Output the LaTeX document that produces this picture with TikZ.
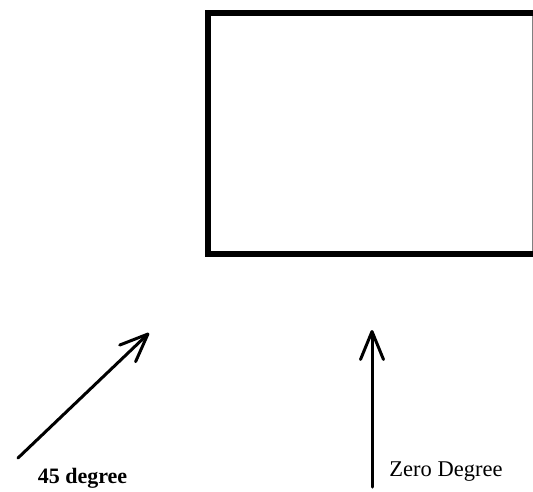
\documentclass[tikz,border=0pt]{standalone}
\usepackage{fontspec}
\setmainfont{Liberation Serif}
\usetikzlibrary{arrows.meta}
\begin{document}
\begin{tikzpicture}[
  x=1pt, y=-1pt,
  frame/.style={line width=6pt, draw=black, line join=miter},
  ray/.style={line width=3pt, draw=black, line cap=round, -{Straight Barb[length=28pt, width=23pt, round]}},
  dlabel/.style={font=\fontsize{22.5}{26}\selectfont, anchor=base, inner sep=0pt}
]
  \useasboundingbox (0,0) rectangle (533,491);

  % Rechteck (rechts abgeschnitten)
  \coordinate (tr) at (533,13);
  \coordinate (tl) at (208,13);
  \coordinate (bl) at (208,254);
  \coordinate (br) at (533,254);
  \draw[frame] (tr) -- (tl) -- (bl) -- (br);
  \draw[gray, line width=1pt] (532,16) -- (532,251);

  % Pfeile
  \coordinate (a1) at (18,458);
  \coordinate (a2) at (149,333);
  \coordinate (z1) at (372,487);
  \coordinate (z2) at (372,330);
  \draw[ray] (a1) -- (a2);
  \draw[ray] (z1) -- (z2);

  % Beschriftungen
  \node[dlabel, font=\fontsize{22}{26}\selectfont\bfseries] (l45) at (82.5,483) {45 degree};
  \node[dlabel] (l0) at (446,476) {Zero Degree};
\end{tikzpicture}
\end{document}
